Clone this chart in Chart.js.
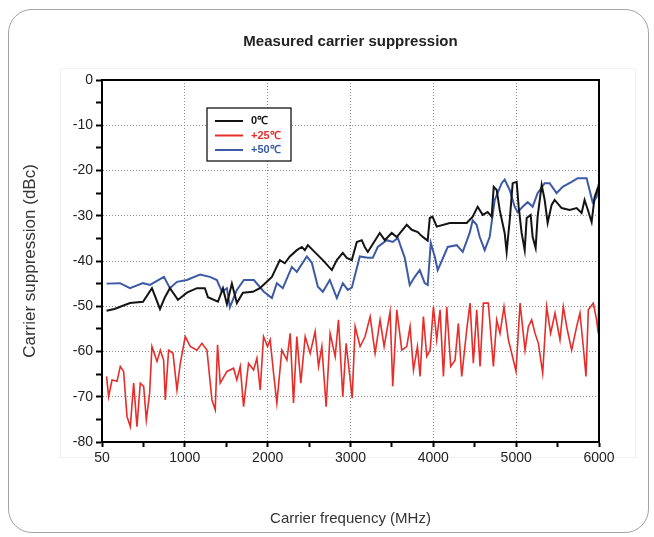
<!DOCTYPE html>
<html>
<head>
<meta charset="utf-8">
<script src="https://cdn.jsdelivr.net/npm/chart.js@4.4.1/dist/chart.umd.min.js"></script>
<style>
  html, body { margin: 0; padding: 0; background: #fff; }
  #wrap { position: relative; width: 654px; height: 537px; }
  #frame { position: absolute; left: 8px; top: 9px; width: 641px; height: 524px; border: 1.5px solid #a3a3a3; border-radius: 24px; box-sizing: border-box; }
  #panel { position: absolute; left: 60px; top: 68px; width: 574px; height: 388px; border: 1px solid #f0f0f0; }
  canvas { position: absolute; left: 0; top: 0; }
</style>
</head>
<body>
<div id="wrap">
  <div id="frame"></div>
  <div id="panel"></div>
  <canvas id="chart" width="654" height="537"></canvas>
</div>
<script>
// Datos (MHz, dBc)
const seriesLabels = ['0\u2103', '+25\u2103', '+50\u2103'];
const xTickLabels = ['50', '1000', '2000', '3000', '4000', '5000', '6000'];

const blackFreq = [55, 150, 338, 495, 603, 700, 760, 820, 917, 1025, 1146, 1242, 1279, 1400, 1460, 1508, 1568, 1628, 1701, 1821,
  1906, 1990, 2051, 2147, 2207, 2268, 2352, 2413, 2449, 2485, 2545, 2666, 2775, 2835, 2907, 2955, 3016, 3076, 3136, 3172,
  3209, 3353, 3414, 3498, 3558, 3679, 3739, 3812, 3860, 3896, 3932, 3957, 3990, 4041, 4198, 4403, 4475, 4535, 4596, 4656,
  4704, 4729, 4765, 4801, 4861, 4885, 4922, 4958, 5006, 5030, 5066, 5103, 5127, 5175, 5199, 5235, 5259, 5308, 5344, 5380,
  5428, 5464, 5549, 5645, 5730, 5790, 5826, 5862, 5911, 5947, 5990];
const blackVals = [-51, -50.6, -49.3, -49, -46, -50.6, -48, -46, -48.6, -47, -46, -46, -48, -49, -46, -49.5, -45, -49.3, -47, -46.8,
  -46, -44.6, -43.5, -39.8, -40.5, -39, -37.6, -36.9, -37.6, -36.5, -37.6, -39.8, -42, -39.8, -38.2, -39.3, -39.8, -35.8, -35.4, -36.9,
  -38, -33.8, -35.4, -33.8, -34.7, -32, -33.1, -33.6, -34.5, -35, -35.5, -30.5, -30.2, -32.4, -31.6, -31.6, -30.2, -28, -29.8, -29.2,
  -30.2, -23.6, -24.3, -28.7, -33.8, -38, -31, -22.8, -22.5, -28, -33.8, -37.6, -30.5, -29.8, -34.7, -37.1, -30.2, -23.2, -26.5, -31.6,
  -27.6, -26.5, -28.3, -28.7, -28.3, -29.4, -26.5, -28.5, -31.4, -25.9, -23.6];

const redFreq = [55, 80, 121, 181, 221, 261, 302, 342, 382, 422, 462, 503, 535, 575, 603, 664, 704, 744, 764, 804,
  857, 905, 945, 1005, 1066, 1146, 1206, 1267, 1327, 1367, 1395, 1427, 1508, 1588, 1628, 1669, 1709, 1769, 1830, 1870,
  1910, 1950, 1998, 2030, 2071, 2111, 2171, 2232, 2272, 2312, 2352, 2400, 2453, 2513, 2573, 2614, 2654, 2706, 2754, 2815,
  2855, 2907, 2947, 2988, 3020, 3056, 3116, 3176, 3237, 3297, 3357, 3406, 3478, 3510, 3559, 3619, 3679, 3719, 3760, 3808,
  3840, 3880, 3921, 3961, 4001, 4041, 4081, 4122, 4162, 4210, 4262, 4302, 4343, 4403, 4443, 4483, 4524, 4564, 4604, 4664,
  4725, 4765, 4805, 4853, 4906, 4946, 4998, 5047, 5107, 5147, 5187, 5228, 5268, 5320, 5368, 5416, 5469, 5529, 5569, 5617,
  5670, 5730, 5770, 5810, 5843, 5871, 5931, 5971, 5991, 6000];
const redVals = [-65.5, -70, -66.3, -66.6, -63.3, -64.4, -74.4, -76.6, -67, -76.6, -67, -67.7, -75.1, -69.2, -58.9, -62.2, -59.7, -61.9, -70.7, -59.7,
  -60.4, -68.5, -62.6, -56.7, -58.9, -59.7, -58.2, -59.7, -70.7, -72.9, -58.5, -67, -64.4, -63.7, -66.3, -63.3, -72.2, -62.6, -64.1, -61.5,
  -68.5, -56.7, -58.9, -57.4, -64.8, -71.4, -59.7, -61.9, -56, -71.4, -56.7, -67, -56.7, -60.4, -55.6, -63.3, -58.9, -72.2, -56, -61.1,
  -53, -70, -58.2, -64.8, -70.3, -54.5, -58.9, -56.7, -52.3, -60.4, -53, -58.9, -51.2, -67.7, -50.8, -59.7, -58.9, -54.5, -64.1, -58.9,
  -65.5, -52.3, -61.1, -59.7, -50.1, -57.4, -50.8, -65.5, -50.1, -63.3, -61.9, -53.8, -65.5, -55.2, -49.3, -62.6, -50.8, -63.3, -49.3, -49.3,
  -63.3, -53, -56, -50.1, -57.4, -60.4, -64.4, -49.3, -59.7, -54.5, -53, -56, -58.2, -64.8, -50.1, -56, -51.5, -57.4, -50.1, -55.2,
  -59.7, -54.5, -51.5, -58.9, -65.5, -50.8, -49.3, -53, -56, -45];

const blueFreq = [55, 217, 338, 495, 579, 748, 820, 905, 1025, 1182, 1303, 1387, 1448, 1508, 1544, 1628, 1713, 1834, 1954, 2051,
  2111, 2183, 2292, 2352, 2473, 2533, 2606, 2666, 2750, 2835, 2907, 2967, 3016, 3112, 3209, 3269, 3329, 3438, 3510, 3571,
  3655, 3715, 3776, 3836, 3896, 3932, 3969, 4017, 4053, 4113, 4174, 4282, 4355, 4439, 4475, 4523, 4560, 4620, 4680, 4741,
  4825, 4861, 4922, 4982, 5018, 5078, 5139, 5199, 5259, 5344, 5404, 5488, 5561, 5670, 5742, 5850, 5886, 5923, 5971, 5995];
const blueVals = [-45, -44.9, -46, -44.9, -45.3, -43.5, -46, -44.6, -44.2, -43, -43.5, -44.2, -46.8, -46, -50.2, -46.4, -44.2, -44.2, -46.8, -48.2,
  -44.9, -46, -41.3, -42.4, -39, -40.4, -45.7, -46.8, -44.2, -48.2, -44.9, -46.4, -45.9, -39, -39.3, -39.3, -36.9, -35.4, -35.8, -34.9,
  -39.3, -45.3, -43.5, -42, -44.9, -45.3, -36, -39, -42, -39.5, -36.9, -36.5, -38, -33.8, -31, -32, -34.7, -37.6, -34.7, -26.5,
  -22.8, -22, -24.3, -28, -29.2, -28, -27, -28, -25, -22.8, -22.8, -25, -23.6, -22.5, -21.7, -21.7, -24.3, -27, -25.9, -23];

const toPoints = (xs, ys) => xs.map((x, i) => ({ x: x, y: ys[i] }));

const FONT = "'Liberation Sans', Arial, sans-serif";
const lineColors = ['#141414', '#e62d29', '#3c5aa6'];

// Marco negro del área de trazado + leyenda dentro del gráfico
const framePlugin = {
  id: 'frameLegend',
  afterDraw(chart) {
    const { ctx, chartArea: a } = chart;
    ctx.save();
    ctx.strokeStyle = '#000';
    ctx.lineWidth = 2;
    ctx.strokeRect(a.left, a.top, a.right - a.left, a.bottom - a.top);

    // leyenda
    const bx = a.left + 105, by = a.top + 28, bw = 84, bh = 53;
    ctx.fillStyle = '#fff';
    ctx.fillRect(bx, by, bw, bh);
    ctx.lineWidth = 1.2;
    ctx.strokeRect(bx, by, bw, bh);
    ctx.font = 'bold 11px ' + FONT;
    ctx.textBaseline = 'middle';
    chart.data.datasets.forEach((ds, i) => {
      const y = by + 13 + i * 14.5;
      ctx.strokeStyle = ds.borderColor;
      ctx.lineWidth = 2;
      ctx.beginPath();
      ctx.moveTo(bx + 8, y);
      ctx.lineTo(bx + 36, y);
      ctx.stroke();
      ctx.fillStyle = ds.borderColor;
      ctx.fillText(ds.label, bx + 44, y);
    });
    ctx.restore();
  }
};

new Chart(document.getElementById('chart'), {
  type: 'line',
  data: {
    datasets: [
      { label: seriesLabels[0], data: toPoints(blackFreq, blackVals), borderColor: lineColors[0], borderWidth: 2, order: 0 },
      { label: seriesLabels[1], data: toPoints(redFreq, redVals), borderColor: lineColors[1], borderWidth: 1.6, order: 2 },
      { label: seriesLabels[2], data: toPoints(blueFreq, blueVals), borderColor: lineColors[2], borderWidth: 2, order: 1 }
    ]
  },
  options: {
    responsive: false,
    animation: false,
    elements: { point: { radius: 0 }, line: { tension: 0, fill: false } },
    layout: { padding: { left: 0, right: 55, top: 0, bottom: 0 } },
    plugins: {
      legend: { display: false },
      tooltip: { enabled: false },
      title: {
        display: true,
        fullSize: false,
        text: 'Measured carrier suppression',
        color: '#222',
        font: { family: FONT, size: 15, weight: 'bold', lineHeight: 1.2 },
        padding: { top: 33, bottom: 29 }
      }
    },
    scales: {
      x: {
        type: 'linear',
        min: 0, max: 6000,
        afterFit: s => { s.height = 95; },
        ticks: {
          stepSize: 500, autoSkip: false, maxRotation: 0, padding: 3,
          color: '#222', font: { family: FONT, size: 14 },
          callback: v => (v % 1000 === 0 ? xTickLabels[v / 1000] : '')
        },
        grid: {
          color: c => (c.tick && c.tick.value % 1000 === 0 && c.tick.value > 0 && c.tick.value < 6000 ? '#8c8c8c' : 'rgba(0,0,0,0)'),
          lineWidth: 1, tickColor: '#000', tickWidth: 2, tickLength: 5
        },
        border: { display: true, color: '#000', width: 2, dash: [1, 2] },
        title: {
          display: true, text: 'Carrier frequency (MHz)', color: '#333',
          font: { family: FONT, size: 15 }, padding: { top: 0, bottom: 9 }
        }
      },
      y: {
        min: -80, max: 0,
        afterFit: s => { s.width = 102; },
        ticks: {
          stepSize: 5, autoSkip: false, padding: 3,
          color: '#222', font: { family: FONT, size: 14 },
          callback: v => (v % 10 === 0 ? String(v) : '')
        },
        grid: {
          color: c => (c.tick && c.tick.value % 10 === 0 && c.tick.value > -80 && c.tick.value < 0 ? '#8c8c8c' : 'rgba(0,0,0,0)'),
          lineWidth: 1, tickColor: '#000', tickWidth: 2, tickLength: 6
        },
        border: { display: true, color: '#000', width: 2, dash: [1, 2] },
        title: {
          display: true, text: 'Carrier suppression (dBc)', color: '#333',
          font: { family: FONT, size: 17 }, padding: { top: 20, bottom: 0 }
        }
      }
    }
  },
  plugins: [framePlugin]
});
</script>
</body>
</html>
